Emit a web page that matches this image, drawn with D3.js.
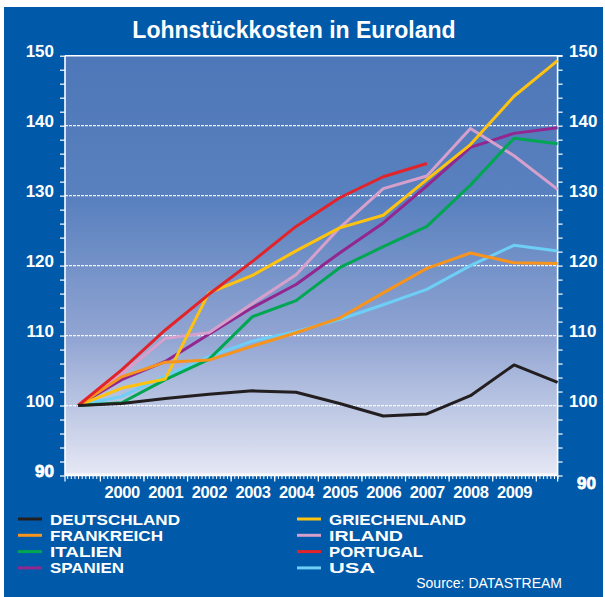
<!DOCTYPE html>
<html><head><meta charset="utf-8">
<script src="https://cdn.jsdelivr.net/npm/d3@7/dist/d3.min.js"></script>
<style>
html,body{margin:0;padding:0;background:#fff;}
svg{display:block;font-family:"Liberation Sans",Arial,Helvetica,sans-serif;}
</style></head>
<body>
<svg id="chart" width="605" height="597"></svg>
<script>
const title = "Lohnstückkosten in Euroland";
const source = "Source: DATASTREAM";
const years = [1999,2000,2001,2002,2003,2004,2005,2006,2007,2008,2009,2010];
const yearLabels = ["2000","2001","2002","2003","2004","2005","2006","2007","2008","2009"];
const yTicks = [90,100,110,120,130,140,150];

const deutschland  = [100,100.3,101.0,101.6,102.1,101.9,100.3,98.5,98.8,101.4,105.8,103.3];
const frankreich   = [100,104.1,106.2,106.5,108.5,110.4,112.5,116.1,119.6,121.8,120.4,120.3];
const italien      = [100,100.4,103.7,106.6,112.7,115.0,119.7,122.7,125.6,131.5,138.2,137.4];
const spanien      = [100,103.7,106.3,110.2,114.0,117.3,121.8,126.1,131.4,136.9,138.9,139.7];
const griechenland = [100,102.5,103.8,116.1,118.6,122.1,125.4,127.2,132.3,137.3,144.2,149.3];
const irland       = [100,104.5,109.6,110.4,114.6,118.7,125.4,131.0,132.8,139.6,135.7,130.9];
const portugal     = [100,105.1,110.8,115.9,120.6,125.6,129.7,132.7,134.6];
const usa          = [100,101.3,104.2,107.0,109.2,110.6,112.3,114.4,116.6,120.0,122.9,122.1];

const seriesNames = ["DEUTSCHLAND","FRANKREICH","ITALIEN","SPANIEN","GRIECHENLAND","IRLAND","PORTUGAL","USA"];
const seriesValues = [deutschland,frankreich,italien,spanien,griechenland,irland,portugal,usa];
const seriesColors = ["#231f20","#f7941d","#00a651","#92278f","#ffc20e","#d6a0cc","#e2232a","#6dcff6"];
const drawOrder = [7,3,5,2,4,1,6,0];

const svg = d3.select("#chart");
const BLUE = "#005aa9";

svg.append("rect").attr("x",4).attr("y",7).attr("width",599).attr("height",590).attr("fill",BLUE);

const x = d3.scaleLinear().domain([1999.2, 2010.5]).range([65, 557.6]);
const y = d3.scaleLinear().domain([90,150]).range([475.5, 55.7]);

const defs = svg.append("defs");
const grad = defs.append("linearGradient").attr("id","bg").attr("x1",0).attr("y1",0).attr("x2",0).attr("y2",1);
[[0,"#4d77b8"],[0.35,"#5a81bf"],[0.68,"#93a6d3"],[1,"#e6e8f4"]].forEach(s=>grad.append("stop").attr("offset",s[0]).attr("stop-color",s[1]));

const px0 = x.range()[0], px1 = x.range()[1];
const py0 = y(150), py1 = y(90);
svg.append("rect").attr("x",px0).attr("y",py0).attr("width",px1-px0).attr("height",py1-py0).attr("fill","url(#bg)");

// gridlines
svg.append("g").selectAll("line").data([100,110,120,130,140]).join("line")
  .attr("x1",px0).attr("x2",px1).attr("y1",d=>y(d)).attr("y2",d=>y(d))
  .attr("stroke","#ffffff").attr("stroke-width",1.3).attr("stroke-dasharray","3,1").attr("opacity",0.9);

// frame
svg.append("line").attr("x1",px0).attr("x2",px1+5).attr("y1",py0).attr("y2",py0).attr("stroke","#fff").attr("stroke-width",1.6);
svg.append("line").attr("x1",px0).attr("x2",px0).attr("y1",py0).attr("y2",py1).attr("stroke","#fff").attr("stroke-width",1.6);
svg.append("line").attr("x1",px1).attr("x2",px1).attr("y1",py0).attr("y2",py1).attr("stroke","#fff").attr("stroke-width",1.6);
svg.append("line").attr("x1",px0).attr("x2",px1).attr("y1",py1-1.5).attr("y2",py1-1.5).attr("stroke","#fff").attr("stroke-width",1.2);

// y axes ticks
const yt = d3.range(90,151,2);
const la = svg.append("g").attr("transform",`translate(${px0},0)`).call(d3.axisLeft(y).tickValues(yt).tickSize(5).tickFormat(""));
const ra = svg.append("g").attr("transform",`translate(${px1},0)`).call(d3.axisRight(y).tickValues(yt).tickSize(5).tickFormat(""));
[la,ra].forEach(g=>{g.select(".domain").remove(); g.selectAll("line").attr("stroke","#fff").attr("stroke-width",1.2);});

// x axis
const minor = d3.range(0, 136).map(i=>1999.25 + i/12).filter(v=>v<=2010.5+1e-6);
const majors = d3.range(2000,2011);
const xa = svg.append("g").attr("transform",`translate(0,${py1})`).call(d3.axisBottom(x).tickValues(minor).tickSize(3.5).tickFormat(""));
xa.select(".domain").attr("stroke","#fff").attr("stroke-width",1.4).attr("d",`M${px0},0H${px1}`);
xa.selectAll("line").attr("stroke","#fff").attr("stroke-width",1);
const xm = svg.append("g").attr("transform",`translate(0,${py1})`).call(d3.axisBottom(x).tickValues(majors).tickSize(6).tickFormat(""));
xm.select(".domain").remove();
xm.selectAll("line").attr("stroke","#fff").attr("stroke-width",1.2);
svg.append("line").attr("x1",px0).attr("x2",px0).attr("y1",py1).attr("y2",py1+6).attr("stroke","#fff").attr("stroke-width",1.2);
svg.append("line").attr("x1",px1).attr("x2",px1).attr("y1",py1).attr("y2",py1+6).attr("stroke","#fff").attr("stroke-width",1.2);

const xl = svg.append("g").attr("transform",`translate(0,${py1})`)
  .call(d3.axisBottom(x).tickValues(yearLabels.map(s=>+s+0.5)).tickSize(0).tickPadding(0).tickFormat((d,i)=>yearLabels[i]));
xl.select(".domain").remove();
xl.selectAll("text").attr("fill","#fff").attr("font-size","16.5px").attr("font-weight","bold")
  .attr("font-family","'Liberation Sans',Arial,sans-serif").attr("dy",null).attr("y",22.5).attr("letter-spacing","-0.4px");

// y labels
const yl = svg.append("g");
yl.selectAll("text.l").data(yTicks).join("text").attr("class","l")
  .attr("x",54).attr("y",d=>y(d)+1).attr("text-anchor","end")
  .attr("fill","#fff").attr("font-size","17px").attr("font-weight","bold")
  .attr("stroke",d=>d===90?"#fff":"none").attr("stroke-width",0.8).text(d=>d);
yl.selectAll("text.r").data(yTicks).join("text").attr("class","r")
  .attr("x",d=>d===90?577:569).attr("y",d=>d===90?y(d)+13:y(d)+1)
  .attr("fill","#fff").attr("font-size","17px").attr("font-weight","bold")
  .attr("stroke",d=>d===90?"#fff":"none").attr("stroke-width",0.8).text(d=>d);

// lines
const line = d3.line().x((d,i)=>x(years[i]+0.5)).y(d=>y(d));
svg.append("g").selectAll("path").data(drawOrder).join("path")
  .attr("d",k=>line(seriesValues[k])).attr("fill","none")
  .attr("stroke",k=>seriesColors[k]).attr("stroke-width",3).attr("stroke-linejoin","round");

// title
svg.append("text").attr("x",294).attr("y",38).attr("text-anchor","middle").attr("fill","#fff")
  .attr("font-size","23px").attr("font-weight","bold").text(title);

// legend
const legWidths = [130,113,72,74,137,74,94,46];
const leg = svg.append("g");
seriesNames.forEach((n,i)=>{
  const col = Math.floor(i/4), row = i%4;
  const lx = col===0?18:297, ly = 519 + row*16.3;
  leg.append("line").attr("x1",lx).attr("x2",lx+24).attr("y1",ly).attr("y2",ly).attr("stroke",seriesColors[i]).attr("stroke-width",3);
  leg.append("text").attr("x",lx+32).attr("y",ly+5.5).attr("fill","#fff").attr("font-size","15px").attr("font-weight","bold")
    .attr("textLength",legWidths[i]).attr("lengthAdjust","spacingAndGlyphs").text(n);
});
svg.append("text").attr("x",562).attr("y",588).attr("text-anchor","end").attr("fill","#fff").attr("font-size","14px").text(source);
</script>
</body></html>
